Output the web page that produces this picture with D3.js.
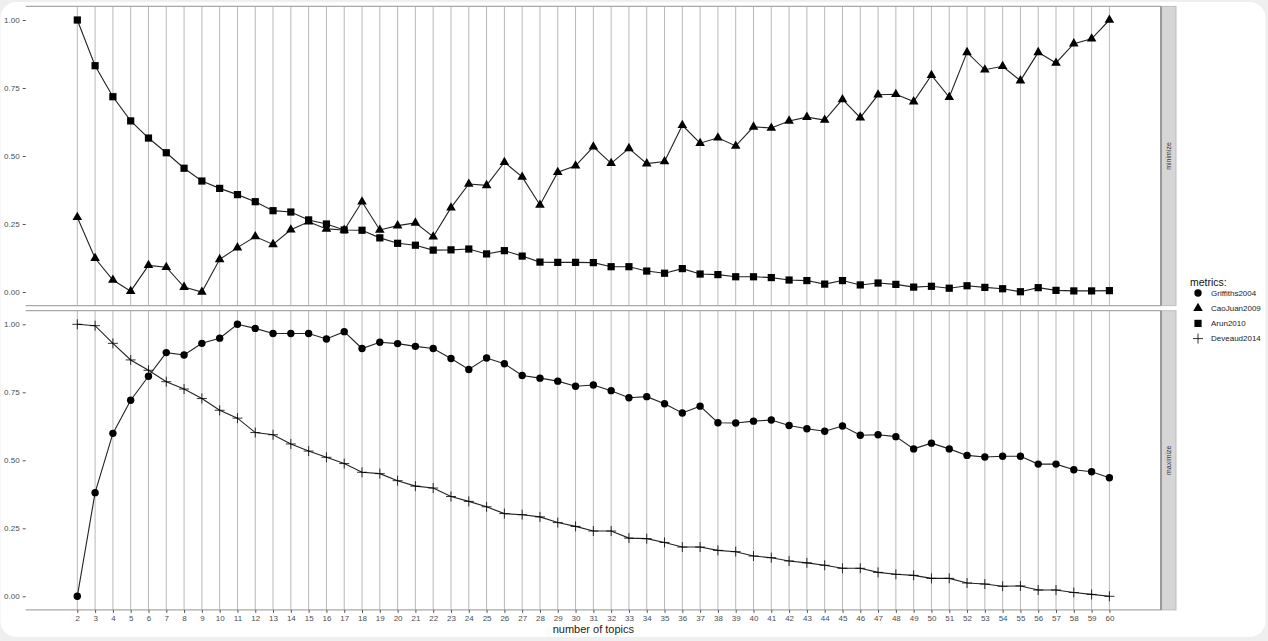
<!DOCTYPE html>
<html>
<head>
<meta charset="utf-8">
<script src="https://cdn.jsdelivr.net/npm/d3@7"></script>
<style>
    body { margin: 0; background: #efefef; }
    svg { display: block; }
</style>
</head>
<body>
<div id="chart"></div>
<script>
var topics = d3.range(2, 61);

var griffiths2004 = [0, 0.381, 0.599, 0.721, 0.809, 0.896, 0.887, 0.930, 0.949, 1.0,
    0.985, 0.966, 0.966, 0.966, 0.946, 0.973, 0.911, 0.934, 0.929, 0.919,
    0.911, 0.874, 0.834, 0.876, 0.855, 0.812, 0.802, 0.791, 0.772, 0.777,
    0.756, 0.730, 0.734, 0.708, 0.674, 0.699, 0.638, 0.637, 0.644, 0.648,
    0.628, 0.616, 0.607, 0.626, 0.592, 0.594, 0.587, 0.542, 0.563, 0.542,
    0.518, 0.512, 0.515, 0.515, 0.486, 0.486, 0.465, 0.458, 0.436];

var caoJuan2009 = [0.275, 0.124, 0.044, 0.003, 0.098, 0.091, 0.018, 0, 0.120, 0.163,
    0.204, 0.175, 0.229, 0.258, 0.232, 0.228, 0.332, 0.228, 0.244, 0.254,
    0.203, 0.310, 0.397, 0.392, 0.477, 0.423, 0.320, 0.440, 0.464, 0.534,
    0.473, 0.528, 0.472, 0.480, 0.613, 0.547, 0.567, 0.537, 0.607, 0.603,
    0.629, 0.643, 0.632, 0.708, 0.641, 0.725, 0.727, 0.700, 0.797, 0.716,
    0.881, 0.817, 0.830, 0.777, 0.881, 0.842, 0.913, 0.931, 1.0];

var arun2010 = [1.0, 0.832, 0.718, 0.629, 0.566, 0.512, 0.455, 0.408, 0.381, 0.358,
    0.332, 0.299, 0.294, 0.265, 0.250, 0.228, 0.227, 0.199, 0.179, 0.172,
    0.154, 0.155, 0.158, 0.140, 0.152, 0.132, 0.110, 0.109, 0.109, 0.108,
    0.093, 0.093, 0.077, 0.069, 0.086, 0.066, 0.064, 0.056, 0.056, 0.053,
    0.044, 0.042, 0.029, 0.042, 0.026, 0.033, 0.028, 0.018, 0.021, 0.014,
    0.023, 0.017, 0.012, 0.001, 0.016, 0.006, 0.004, 0.004, 0.005];

var deveaud2014 = [1.0, 0.995, 0.930, 0.869, 0.831, 0.789, 0.762, 0.727, 0.684, 0.655,
    0.602, 0.594, 0.560, 0.534, 0.511, 0.488, 0.456, 0.451, 0.425, 0.405,
    0.398, 0.367, 0.349, 0.329, 0.304, 0.300, 0.292, 0.271, 0.257, 0.240,
    0.240, 0.214, 0.212, 0.198, 0.181, 0.181, 0.169, 0.164, 0.148, 0.142,
    0.130, 0.123, 0.114, 0.103, 0.103, 0.088, 0.081, 0.077, 0.066, 0.066,
    0.049, 0.045, 0.037, 0.038, 0.023, 0.023, 0.014, 0.007, 0];

var metrics = ["Griffiths2004", "CaoJuan2009", "Arun2010", "Deveaud2014"];
var shapes = { Griffiths2004: "circle", CaoJuan2009: "triangle", Arun2010: "square", Deveaud2014: "plus" };
var panels = [
    { name: "minimize", series: { CaoJuan2009: caoJuan2009, Arun2010: arun2010 } },
    { name: "maximize", series: { Griffiths2004: griffiths2004, Deveaud2014: deveaud2014 } }
];
var yTicks = [0, 0.25, 0.5, 0.75, 1];

var width = 1268,
    height = 641,
    _grid = "#b8b8b8",
    _text = "#4d4d4d",
    font = "Liberation Sans, Arial, sans-serif";

var svg = d3.select("#chart")
    .append("svg")
    .attr("width", width)
    .attr("height", height);

// card
svg.append("rect")
    .attr("x", 0.5).attr("y", 2)
    .attr("width", 1265).attr("height", 635)
    .attr("rx", 16)
    .style("fill", "#fff");

var x = d3.scaleLinear()
    .domain([2 - 2.9, 60 + 2.9])
    .range([25.7, 1161]);

var panelTops = [6.4, 310.7],
    panelH = 299.2;

function drawMarker(g, shape, px, py) {
    if (shape == "circle") {
        g.append("circle").attr("cx", px).attr("cy", py).attr("r", 3.7).style("fill", "#000");
    } else if (shape == "square") {
        g.append("rect").attr("x", px - 3.6).attr("y", py - 3.6).attr("width", 7.2).attr("height", 7.2).style("fill", "#000");
    } else if (shape == "triangle") {
        g.append("path")
            .attr("d", d3.symbol().type(d3.symbolTriangle).size(40)())
            .attr("transform", `translate(${px},${py})`)
            .style("fill", "#000");
    } else {
        g.append("path")
            .attr("d", `M${px - 5},${py}H${px + 5}M${px},${py - 5}V${py + 5}`)
            .style("stroke", "#000")
            .style("stroke-width", 0.8)
            .style("fill", "none");
    }
}

panels.forEach(function(p, i) {
    var top = panelTops[i];
    var y = d3.scaleLinear()
        .domain([-0.05, 1.05])
        .range([top + panelH, top]);

    var g = svg.append("g").attr("class", "panel-" + p.name);

    // vertical grid
    g.selectAll(".grid")
        .data(topics).enter()
        .append("line")
        .attr("x1", function(d) { return x(d); })
        .attr("x2", function(d) { return x(d); })
        .attr("y1", top)
        .attr("y2", top + panelH)
        .style("stroke", _grid)
        .style("stroke-width", 1);

    // top / bottom edges
    [top, top + panelH].forEach(function(yy) {
        g.append("line")
            .attr("x1", x.range()[0]).attr("x2", x.range()[1])
            .attr("y1", yy).attr("y2", yy)
            .style("stroke", "#a8a8a8")
            .style("stroke-width", 1.2);
    });

    // y axis
    var ax = g.append("g")
        .attr("transform", `translate(${x.range()[0]},0)`)
        .call(d3.axisLeft(y).tickValues(yTicks).tickSize(3).tickPadding(3).tickFormat(d3.format(".2f")));
    ax.select(".domain").remove();
    ax.selectAll("line").style("stroke", "#555");
    ax.selectAll("text")
        .style("font-family", font)
        .style("font-size", "8px")
        .style("fill", _text);

    // series
    Object.keys(p.series).forEach(function(m) {
        var vals = p.series[m];
        g.append("path")
            .datum(vals)
            .attr("d", d3.line()
                .x(function(d, k) { return x(topics[k]); })
                .y(function(d) { return y(d); }))
            .style("fill", "none")
            .style("stroke", "#222")
            .style("stroke-width", 1.1);
        vals.forEach(function(v, k) {
            drawMarker(g, shapes[m], x(topics[k]), y(v));
        });
    });

    // strip
    g.append("rect")
        .attr("x", 1161).attr("y", top)
        .attr("width", 15).attr("height", panelH)
        .style("fill", "#d6d6d6")
        .style("stroke", "#bdbdbd")
        .style("stroke-width", 1);
    g.append("line")
        .attr("x1", 1161).attr("x2", 1161)
        .attr("y1", top).attr("y2", top + panelH)
        .style("stroke", "#858585")
        .style("stroke-width", 1.5);
    g.append("text")
        .attr("transform", `translate(${1168.5},${top + panelH / 2}) rotate(-90)`)
        .attr("text-anchor", "middle")
        .attr("dy", "0.35em")
        .style("font-family", font)
        .style("font-size", "7px")
        .style("fill", "#333")
        .text(p.name);
});

// x axis under bottom panel
var xa = svg.append("g")
    .attr("transform", `translate(0,${panelTops[1] + panelH})`)
    .call(d3.axisBottom(x).tickValues(topics).tickSize(3).tickPadding(2).tickFormat(d3.format("d")));
xa.select(".domain").remove();
xa.selectAll("line").style("stroke", "#555");
xa.selectAll("text")
    .style("font-family", font)
    .style("font-size", "8px")
    .style("fill", _text);

svg.append("text")
    .attr("x", (x.range()[0] + x.range()[1]) / 2)
    .attr("y", 633)
    .attr("text-anchor", "middle")
    .style("font-family", font)
    .style("font-size", "11px")
    .style("fill", "#222")
    .text("number of topics");

// legend
var legend = svg.append("g").attr("transform", "translate(1190,0)");
legend.append("text")
    .attr("x", 0).attr("y", 286)
    .style("font-family", font)
    .style("font-size", "10.5px")
    .style("fill", "#111")
    .text("metrics:");
metrics.forEach(function(m, i) {
    var yy = 293 + i * 15.2;
    drawMarker(legend, shapes[m], 8, yy);
    legend.append("text")
        .attr("x", 21).attr("y", yy)
        .attr("dy", "0.35em")
        .style("font-family", font)
        .style("font-size", "8px")
        .style("fill", "#222")
        .text(m);
});
</script>
</body>
</html>
